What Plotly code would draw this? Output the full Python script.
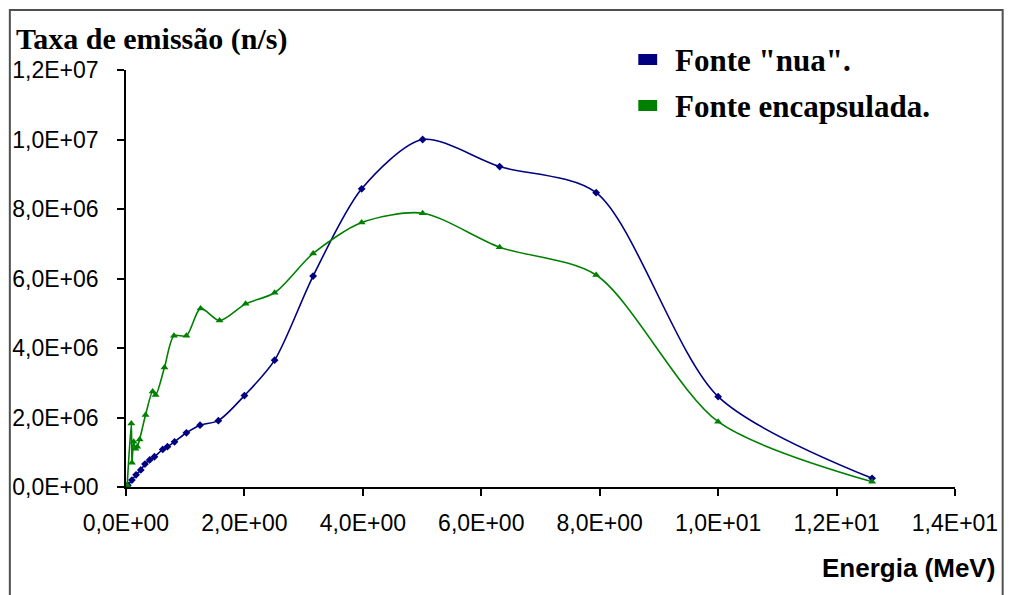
import plotly.graph_objects as go

# Emission rate spectra (n/s) versus neutron energy (MeV)
energia_nua = [0.03, 0.10, 0.17, 0.25, 0.32, 0.40, 0.48, 0.62, 0.70, 0.82,
               1.02, 1.25, 1.56, 2.00, 2.51, 3.16, 3.98, 5.01, 6.31, 7.94,
               10.0, 12.6]
taxa_nua = [0.05e6, 0.20e6, 0.35e6, 0.49e6, 0.66e6, 0.78e6, 0.87e6, 1.08e6,
            1.16e6, 1.30e6, 1.56e6, 1.78e6, 1.91e6, 2.63e6, 3.65e6, 6.07e6,
            8.58e6, 1.00e7, 9.22e6, 8.47e6, 2.60e6, 0.25e6]

energia_encap = [0.02, 0.09, 0.10, 0.13, 0.16, 0.19, 0.23, 0.33, 0.45, 0.50,
                 0.65, 0.81, 1.02, 1.26, 1.58, 2.02, 2.51, 3.16, 3.98, 5.01,
                 6.31, 7.94, 10.0, 12.6]
taxa_encap = [0.05e6, 1.83e6, 0.70e6, 1.30e6, 1.10e6, 1.16e6, 1.37e6, 2.07e6,
              2.75e6, 2.65e6, 3.44e6, 4.35e6, 4.35e6, 5.14e6, 4.79e6, 5.27e6,
              5.59e6, 6.72e6, 7.61e6, 7.88e6, 6.90e6, 6.10e6, 1.88e6, 0.15e6]

x_ticks = [0, 2, 4, 6, 8, 10, 12, 14]
x_tick_labels = ["0,0E+00", "2,0E+00", "4,0E+00", "6,0E+00", "8,0E+00",
                 "1,0E+01", "1,2E+01", "1,4E+01"]
y_ticks = [0, 2e6, 4e6, 6e6, 8e6, 1e7, 1.2e7]
y_tick_labels = ["0,0E+00", "2,0E+06", "4,0E+06", "6,0E+06", "8,0E+06",
                 "1,0E+07", "1,2E+07"]

serie_nomes = ['Fonte "nua".', "Fonte encapsulada."]
serie_cores = ["#000080", "#008000"]

W, H = 1010, 595
L, R, T, B = 126, 961, 70, 487


def px(xp):
    return (xp - L) / (R - L)


def py(yp):
    return (B - yp) / (B - T)


fig = go.Figure()
fig.add_trace(go.Scatter(
    x=energia_nua, y=taxa_nua, mode="lines+markers", name=serie_nomes[0],
    line=dict(color=serie_cores[0], width=1.6, shape="spline", smoothing=0.8),
    marker=dict(symbol="diamond", size=6, color=serie_cores[0]),
    showlegend=False))
fig.add_trace(go.Scatter(
    x=energia_encap, y=taxa_encap, mode="lines+markers", name=serie_nomes[1],
    line=dict(color=serie_cores[1], width=1.6, shape="spline", smoothing=0.8),
    marker=dict(symbol="triangle-up", size=7, color=serie_cores[1]),
    showlegend=False))

axis_common = dict(showgrid=False, zeroline=False, showline=True,
                   linecolor="black", linewidth=1.5, ticks="outside",
                   ticklen=7, tickwidth=1.5, tickcolor="black",
                   tickfont=dict(family="Liberation Sans", size=23,
                                 color="black"))

fig.update_xaxes(range=[0, 14], tickvals=x_ticks, ticktext=x_tick_labels,
                 ticklabelstandoff=8, **axis_common)
fig.update_yaxes(range=[0, 1.2e7], tickvals=y_ticks, ticktext=y_tick_labels,
                 ticklabelstandoff=14, **axis_common)

annotations = [
    dict(text="<b>Taxa de emissão (n/s)</b>", x=px(13), y=py(39),
         xanchor="left", yanchor="middle",
         font=dict(family="Liberation Serif", size=30, color="black")),
    dict(text="<b>Energia (MeV)</b>", x=px(1003), y=py(568),
         xanchor="right", yanchor="middle",
         font=dict(family="Liberation Sans", size=26, color="black")),
    dict(text="<b>" + serie_nomes[0] + "</b>",
         x=px(677), y=py(61), xanchor="left", yanchor="middle",
         font=dict(family="Liberation Serif", size=31, color="black")),
    dict(text="<b>" + serie_nomes[1] + "</b>",
         x=px(677), y=py(106), xanchor="left", yanchor="middle",
         font=dict(family="Liberation Serif", size=31, color="black")),
]
for a in annotations:
    a.update(xref="paper", yref="paper", showarrow=False)

shapes = [
    # outer frame
    dict(type="rect", xref="paper", yref="paper",
         x0=px(9), x1=px(1009), y0=py(603), y1=py(10),
         line=dict(color="#505050", width=2)),
    # legend swatches
    dict(type="rect", xref="paper", yref="paper",
         x0=px(642), x1=px(661), y0=py(65), y1=py(54),
         fillcolor=serie_cores[0], line=dict(width=0)),
    dict(type="rect", xref="paper", yref="paper",
         x0=px(642), x1=px(661), y0=py(111), y1=py(100),
         fillcolor=serie_cores[1], line=dict(width=0)),
]

fig.update_layout(
    width=W, height=H,
    margin=dict(l=L, r=W - R, t=T, b=H - B, pad=0),
    paper_bgcolor="white", plot_bgcolor="white",
    annotations=annotations, shapes=shapes,
    showlegend=False,
)

fig.write_html("out.html")
